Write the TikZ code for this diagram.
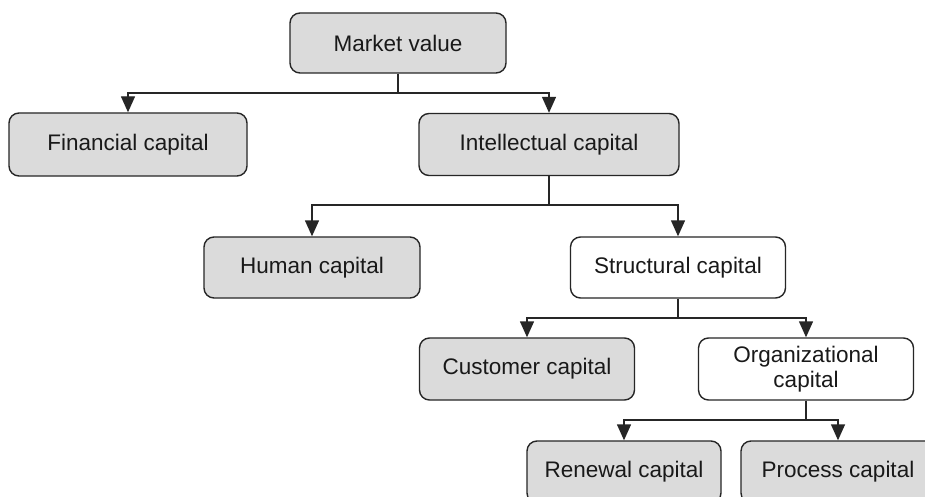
\documentclass[tikz,border=0pt]{standalone}
\usepackage{fontspec}
\setmainfont{Liberation Sans}
\usetikzlibrary{arrows.meta}
\begin{document}
\begin{tikzpicture}[x=1pt,y=-1pt,
  box/.style={draw=black!85, line width=1.4pt, rounded corners=10pt, inner sep=0pt,
    font=\fontsize{22.5}{25}\selectfont, align=center, text=black!90},
  gbox/.style={box, fill=black!14},
  wbox/.style={box, fill=white},
  conn/.style={line width=1.4pt, draw=black!85},
  arr/.style={conn, -{Triangle[width=14pt,length=16pt]}}]
\useasboundingbox (0,0) rectangle (925,497);
\clip (0,0) rectangle (925,497);
\fill[white] (0,0) rectangle (925,497);
\node[gbox, minimum width=216pt, minimum height=60pt] (mv) at (398,43) {Market value};
\node[gbox, minimum width=238pt, minimum height=63pt] (fc) at (128,144.5) {Financial capital};
\node[gbox, minimum width=260pt, minimum height=62pt] (ic) at (549,144.5) {Intellectual capital};
\node[gbox, minimum width=216pt, minimum height=61pt] (hc) at (312,267.5) {Human capital};
\node[wbox, minimum width=215pt, minimum height=61pt] (sc) at (678,267.5) {Structural capital};
\node[gbox, minimum width=215pt, minimum height=62pt] (cc) at (527,369) {Customer capital};
\node[wbox, minimum width=215pt, minimum height=62pt] (oc) at (806,369) {Organizational\\capital};
\node[gbox, minimum width=194pt, minimum height=62pt] (rc) at (624,472) {Renewal capital};
\node[gbox, minimum width=194pt, minimum height=62pt] (pc) at (838,472) {Process capital};
\coordinate (j1) at (398,93);
\coordinate (j2) at (549,205);
\coordinate (j3) at (678,318);
\coordinate (j4) at (806,420);
\draw[conn] (mv.south) -- (j1);
\draw[arr] (j1) -| (fc.north);
\draw[arr] (j1) -| (ic.north);
\draw[conn] (ic.south) -- (j2);
\draw[arr] (j2) -| (hc.north);
\draw[arr] (j2) -| (sc.north);
\draw[conn] (sc.south) -- (j3);
\draw[arr] (j3) -| (cc.north);
\draw[arr] (j3) -| (oc.north);
\draw[conn] (oc.south) -- (j4);
\draw[arr] (j4) -| (rc.north);
\draw[arr] (j4) -| (pc.north);
\end{tikzpicture}
\end{document}
